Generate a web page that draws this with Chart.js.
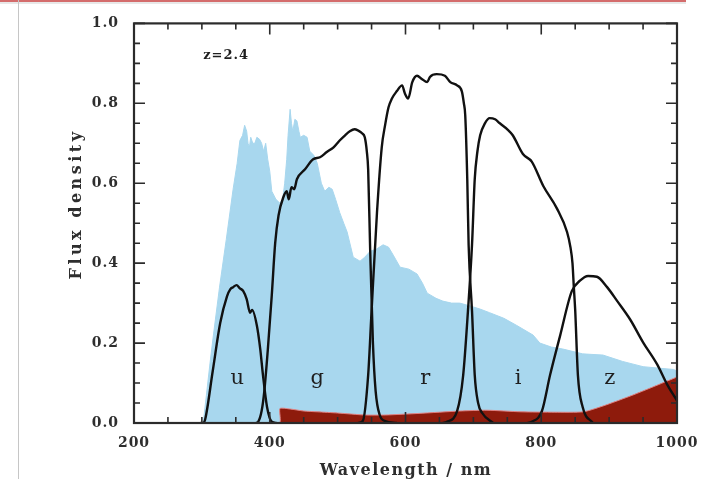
<!DOCTYPE html>
<html>
<head>
<meta charset="utf-8">
<script src="https://cdn.jsdelivr.net/npm/chart.js@4.4.1/dist/chart.umd.min.js"></script>
<style>
  html, body { margin: 0; padding: 0; background: #fff; }
  #wrap { position: relative; width: 712px; height: 479px; overflow: hidden; }
  #chart { position: absolute; left: 0; top: 0; }
  #topbar { position: absolute; left: 0; top: 0; width: 686px; height: 2px; background: #d46c6c; }
  #topshade { position: absolute; left: 0; top: 2px; width: 686px; height: 2px; background: #e8e8e8; }
  #sideline { position: absolute; left: 18px; top: 0; width: 1px; height: 479px; background: #c6c6c6; }
</style>
</head>
<body>
<div id="wrap">
  <canvas id="chart" width="712" height="479"></canvas>
  <div id="topbar"></div>
  <div id="topshade"></div>
  <div id="sideline"></div>
</div>
<script>
// galaxy spectrum at z=2.4 (light blue)
const specWave = [300, 302, 306, 312, 317, 326, 336, 346, 352, 356, 360, 363, 366, 368, 370, 372, 375, 378, 381, 385, 388, 391, 394, 397, 400, 403, 409, 415, 419, 422, 425, 427, 430, 432, 434, 437, 440, 443, 445, 450, 455, 459, 465, 470, 476, 481, 487, 492, 497, 503, 509, 514, 523, 533, 540, 548, 557, 567, 575, 582, 592, 605, 617, 625, 632, 645, 655, 668, 680, 695, 710, 724, 745, 764, 788, 798, 815, 832, 861, 891, 920, 950, 975, 995, 1000];
const specFlux = [0, 0.0, 0.06, 0.15, 0.22, 0.34, 0.46, 0.585, 0.65, 0.707, 0.72, 0.745, 0.73, 0.7, 0.69, 0.715, 0.7, 0.7, 0.715, 0.71, 0.7, 0.68, 0.7, 0.66, 0.63, 0.58, 0.56, 0.55, 0.56, 0.6, 0.66, 0.72, 0.785, 0.75, 0.73, 0.76, 0.756, 0.73, 0.715, 0.72, 0.715, 0.68, 0.67, 0.65, 0.6, 0.58, 0.59, 0.585, 0.56, 0.527, 0.5, 0.478, 0.415, 0.405, 0.415, 0.43, 0.435, 0.446, 0.44, 0.42, 0.39, 0.385, 0.373, 0.35, 0.325, 0.312, 0.305, 0.3, 0.3, 0.293, 0.285, 0.276, 0.262, 0.244, 0.22, 0.2, 0.19, 0.185, 0.173, 0.17, 0.154, 0.141, 0.137, 0.134, 0.13];

// dust / extinction component (dark red)
const dustWave = [200, 414, 415, 430, 450, 470, 500, 540, 570, 620, 680, 720, 770, 820, 862, 890, 935, 1000];
const dustFlux = [0, 0, 0.036, 0.035, 0.03, 0.028, 0.025, 0.02, 0.02, 0.024, 0.03, 0.032, 0.028, 0.027, 0.028, 0.042, 0.07, 0.115];

// filter response curves
const uWave = [298, 302, 305, 316, 327, 337, 342, 346, 351, 356, 361, 366, 371, 374, 381, 386, 390, 396, 403, 410];
const uResp = [0, 0, 0.01, 0.13, 0.25, 0.317, 0.335, 0.34, 0.345, 0.337, 0.33, 0.31, 0.276, 0.283, 0.244, 0.185, 0.12, 0.04, 0.003, 0];

const gWave = [380, 383, 388, 392, 397, 403, 408, 413, 420, 425, 428, 432, 436, 440, 452, 464, 474, 484, 494, 503, 511, 518, 525, 530, 536, 540, 543, 545, 548, 552, 556, 562, 570, 587];
const gResp = [0, 0.003, 0.03, 0.08, 0.18, 0.32, 0.45, 0.52, 0.565, 0.58, 0.56, 0.59, 0.585, 0.61, 0.635, 0.66, 0.665, 0.678, 0.69, 0.707, 0.72, 0.73, 0.735, 0.732, 0.725, 0.715, 0.68, 0.634, 0.43, 0.2, 0.08, 0.02, 0.005, 0];

const rWave = [530, 537, 545, 550, 558, 565, 570, 575, 580, 587, 595, 599, 604, 610, 617, 624, 632, 636, 646, 658, 666, 676, 683, 686, 688, 691, 693, 698, 702, 707, 713, 729];
const rResp = [0, 0.005, 0.12, 0.28, 0.527, 0.69, 0.746, 0.79, 0.812, 0.83, 0.845, 0.825, 0.812, 0.853, 0.869, 0.861, 0.853, 0.866, 0.873, 0.869, 0.853, 0.845, 0.83, 0.8, 0.77, 0.61, 0.446, 0.28, 0.12, 0.05, 0.025, 0];

const iWave = [655, 661, 676, 685, 692, 698, 702, 706, 710, 717, 724, 732, 739, 750, 758, 773, 786, 803, 823, 838, 843, 846, 848, 850, 854, 861, 876];
const iResp = [0, 0.003, 0.03, 0.12, 0.28, 0.446, 0.61, 0.68, 0.72, 0.75, 0.763, 0.76, 0.75, 0.735, 0.72, 0.673, 0.654, 0.593, 0.537, 0.478, 0.44, 0.4, 0.34, 0.283, 0.12, 0.04, 0];

const zWave = [780, 786, 801, 813, 828, 845, 857, 869, 882, 897, 912, 931, 950, 971, 985, 1000];
const zResp = [0, 0.003, 0.03, 0.12, 0.22, 0.33, 0.356, 0.368, 0.366, 0.34, 0.305, 0.259, 0.202, 0.146, 0.098, 0.056];

// band names and where they sit
const bandNames = ["u", "g", "r", "i", "z"];
const bandLabelWave = [352, 470, 629, 766, 901];
const bandLabelY = 0.11;

const xTickLabels = [200, 400, 600, 800, 1000];
const yTickLabels = [0.0, 0.2, 0.4, 0.6, 0.8, 1.0];

const toPoints = (xs, ys) => xs.map((x, i) => ({ x, y: ys[i] }));

function filterSet(label, xs, ys) {
  return {
    label,
    data: toPoints(xs, ys),
    borderColor: "#111",
    borderWidth: 2.4,
    pointRadius: 0,
    fill: false,
    cubicInterpolationMode: "monotone",
    order: 0,
  };
}

const isMajorX = (v) => xTickLabels.includes(Math.round(v));
const isMajorY = (v) => yTickLabels.some((t) => Math.abs(t - v) < 1e-6);

// inward IDL-style ticks, box frame and text annotations
const framePlugin = {
  id: "frame",
  beforeDraw(chart) {
    chart.ctx.letterSpacing = "1px";
  },
  afterDatasetsDraw(chart) {
    const { ctx, chartArea: a, scales } = chart;
    const x = scales.x, y = scales.y;
    ctx.save();
    ctx.letterSpacing = "0px";
    ctx.strokeStyle = "#2b2b2b";
    ctx.lineWidth = 1.6;
    ctx.beginPath();
    for (const t of x.ticks) {
      const px = x.getPixelForValue(t.value);
      const len = isMajorX(t.value) ? 11 : 6;
      ctx.moveTo(px, a.bottom); ctx.lineTo(px, a.bottom - len);
      ctx.moveTo(px, a.top); ctx.lineTo(px, a.top + len);
    }
    for (const t of y.ticks) {
      const py = y.getPixelForValue(t.value);
      const len = isMajorY(t.value) ? 11 : 6;
      ctx.moveTo(a.left, py); ctx.lineTo(a.left + len, py);
      ctx.moveTo(a.right, py); ctx.lineTo(a.right - len, py);
    }
    ctx.stroke();
    ctx.lineWidth = 2.2;
    ctx.strokeRect(a.left, a.top, a.right - a.left, a.bottom - a.top);

    // band letters
    ctx.fillStyle = "#1e1e1e";
    ctx.font = "21px 'DejaVu Serif'";
    ctx.textAlign = "center";
    ctx.textBaseline = "middle";
    bandNames.forEach((n, i) => {
      ctx.fillText(n, x.getPixelForValue(bandLabelWave[i]), y.getPixelForValue(bandLabelY));
    });

    // redshift note
    ctx.font = "bold 13px 'DejaVu Serif'";
    ctx.letterSpacing = "1px";
    ctx.textAlign = "left";
    ctx.fillText("z=2.4", x.getPixelForValue(302), y.getPixelForValue(0.92));

    // axis titles
    ctx.fillStyle = "#2e2e2e";
    ctx.font = "bold 16px 'DejaVu Serif'";
    ctx.letterSpacing = "1.5px";
    ctx.textAlign = "center";
    ctx.textBaseline = "alphabetic";
    ctx.fillText("Wavelength / nm", 406, 475);

    ctx.save();
    ctx.translate(81, 204);
    ctx.rotate(-Math.PI / 2);
    ctx.letterSpacing = "3.5px";
    ctx.fillText("Flux density", 0, 0);
    ctx.restore();

    ctx.restore();
  },
};

const ctx = document.getElementById("chart").getContext("2d");
new Chart(ctx, {
  type: "line",
  data: {
    datasets: [
      filterSet("u", uWave, uResp),
      filterSet("g", gWave, gResp),
      filterSet("r", rWave, rResp),
      filterSet("i", iWave, iResp),
      filterSet("z", zWave, zResp),
      {
        label: "dust",
        data: toPoints(dustWave, dustFlux),
        borderColor: "#e08080",
        borderWidth: 1,
        backgroundColor: "#8e1b0c",
        pointRadius: 0,
        fill: "origin",
        tension: 0.2,
        order: 1,
      },
      {
        label: "spectrum",
        data: toPoints(specWave, specFlux),
        borderColor: "#a8d7ee",
        borderWidth: 1,
        backgroundColor: "#a8d7ee",
        pointRadius: 0,
        fill: "origin",
        tension: 0,
        order: 2,
      },
    ],
  },
  options: {
    responsive: false,
    devicePixelRatio: 1,
    animation: false,
    layout: { padding: { top: 13, right: 35, left: 0, bottom: 0 } },
    plugins: { legend: { display: false }, tooltip: { enabled: false } },
    scales: {
      x: {
        type: "linear",
        min: 200,
        max: 1000,
        grid: { display: false, drawTicks: false },
        border: { display: false },
        afterFit: (s) => { s.height = 56; },
        ticks: {
          stepSize: 50,
          autoSkip: false,
          maxRotation: 0,
          padding: 12,
          color: "#2e2e2e",
          font: { family: "DejaVu Serif", size: 14, weight: "bold" },
          callback: (v) => (isMajorX(v) ? String(Math.round(v)) : ""),
        },
      },
      y: {
        min: 0,
        max: 1,
        grid: { display: false, drawTicks: false },
        border: { display: false },
        afterFit: (s) => { s.width = 134; },
        ticks: {
          stepSize: 0.05,
          autoSkip: false,
          padding: 15,
          color: "#2e2e2e",
          font: { family: "DejaVu Serif", size: 14, weight: "bold" },
          callback: (v) => (isMajorY(v) ? v.toFixed(1) : ""),
        },
      },
    },
  },
  plugins: [framePlugin],
});
</script>
</body>
</html>
